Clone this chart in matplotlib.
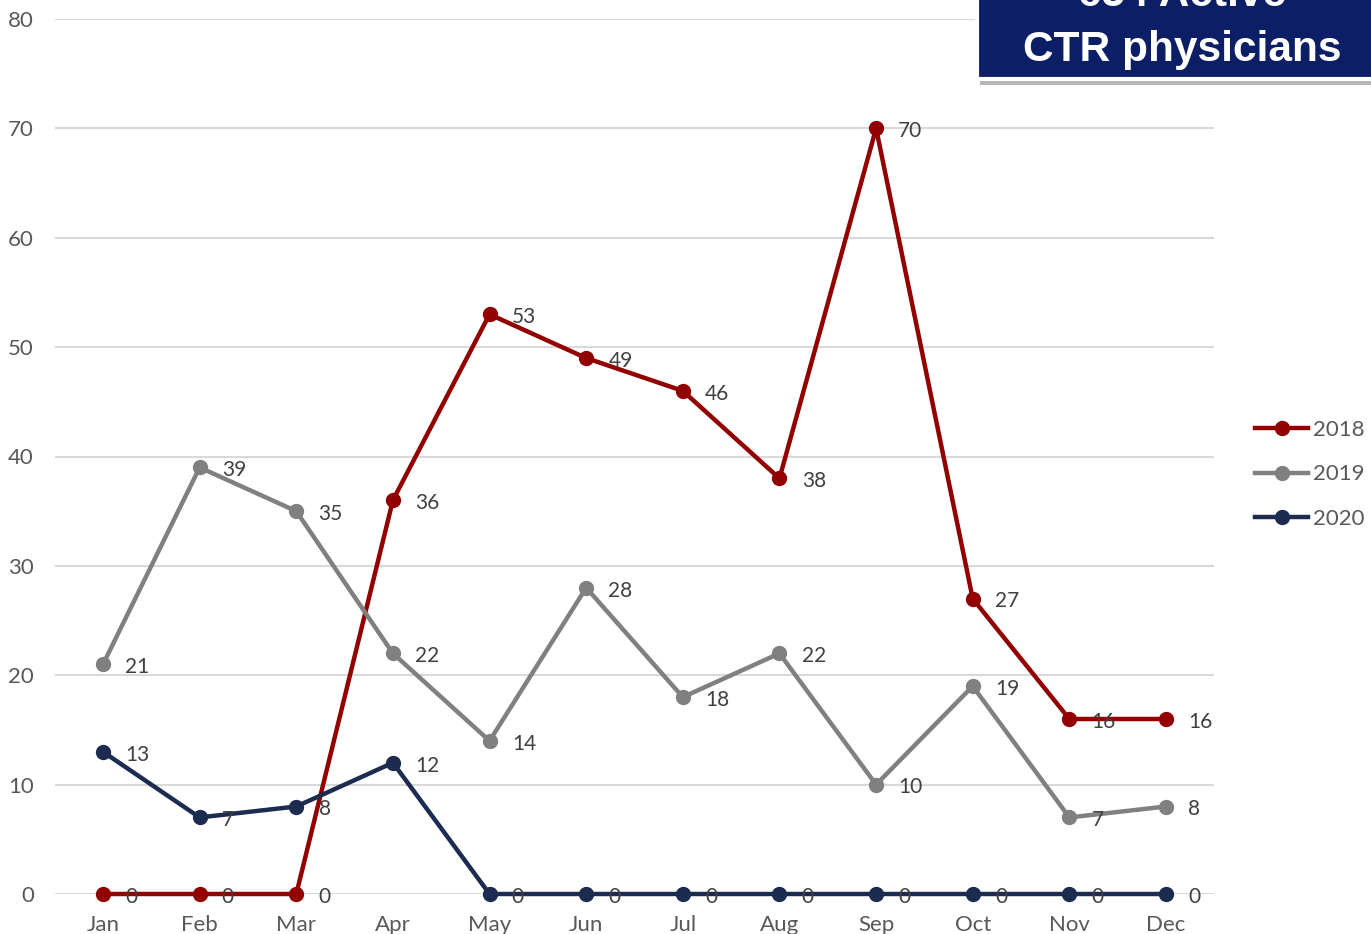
import matplotlib
matplotlib.use("Agg")
import matplotlib.pyplot as plt
from matplotlib.patches import Rectangle

months = ["Jan", "Feb", "Mar", "Apr", "May", "Jun", "Jul", "Aug", "Sep", "Oct", "Nov", "Dec"]
s2018 = [0, 0, 0, 36, 53, 49, 46, 38, 70, 27, 16, 16]
s2019 = [21, 39, 35, 22, 14, 28, 18, 22, 10, 19, 7, 8]
s2020 = [13, 7, 8, 12, 0, 0, 0, 0, 0, 0, 0, 0]
series_names = ["2018", "2019", "2020"]
colors = ["#920000", "#808080", "#1b2c50"]
box_lines = ["654 Active", "CTR physicians"]

plt.rcParams['font.family'] = ['Lato', 'DejaVu Sans']

W, H = 1371, 934
fig = plt.figure(figsize=(W / 100, H / 100), dpi=100)
ax = fig.add_axes([54.7 / W, (H - 894) / H, (1214.3 - 54.7) / W, 875 / H])

x = list(range(len(months)))
for name, vals, c in zip(series_names, [s2018, s2019, s2020], colors):
    ax.plot(x, vals, color=c, lw=3.2, marker="o", ms=10, label=name, zorder=3, clip_on=False)
    for xi, v in zip(x, vals):
        ax.annotate(str(v), (xi, v), xytext=(16, -2), textcoords="offset points",
                    va="center", ha="left", fontsize=15, color="#404040", zorder=4,
                    annotation_clip=False)

ax.set_xlim(-0.5, 11.5)
ax.set_ylim(0, 80)
ax.set_yticks(range(0, 81, 10))
ax.set_xticks(x)
ax.set_xticklabels(months)
ax.grid(axis="y", color="#d9d9d9", lw=1.5, zorder=0)
ax.set_axisbelow(True)
for s in ax.spines.values():
    s.set_visible(False)
ax.tick_params(axis="both", length=0, labelsize=16, labelcolor="#595959")
ax.tick_params(axis="y", pad=15)
ax.tick_params(axis="x", pad=15)

leg = fig.legend(loc="upper left", bbox_to_anchor=(1246 / W, 1 - 411 / H), frameon=False,
                 fontsize=16, labelcolor="#595959", handlelength=2.4, handletextpad=0.22,
                 labelspacing=1.1, borderaxespad=0)

# Text box at top right
shadow = Rectangle((980 / W, 1 - 85 / H), (W - 980) / W + 0.01, 90 / H, transform=fig.transFigure,
                   facecolor="#b5b5b5", edgecolor="none", zorder=5)
fig.patches.append(shadow)
box = Rectangle((977 / W, 1 - 79 / H), (W - 977) / W + 0.01, 90 / H, transform=fig.transFigure,
                facecolor="#0c1f66", edgecolor="white", lw=3, zorder=6)
fig.patches.append(box)
fig.text(1182 / W, 1 - 6 / H, box_lines[0], ha="center", va="baseline", fontsize=30.5,
         fontweight="bold", color="white", family="Liberation Sans", zorder=7)
fig.text(1182 / W, 1 - 61 / H, box_lines[1], ha="center", va="baseline", fontsize=30.5,
         fontweight="bold", color="white", family="Liberation Sans", zorder=7)

fig.savefig("out.png", dpi=100)
